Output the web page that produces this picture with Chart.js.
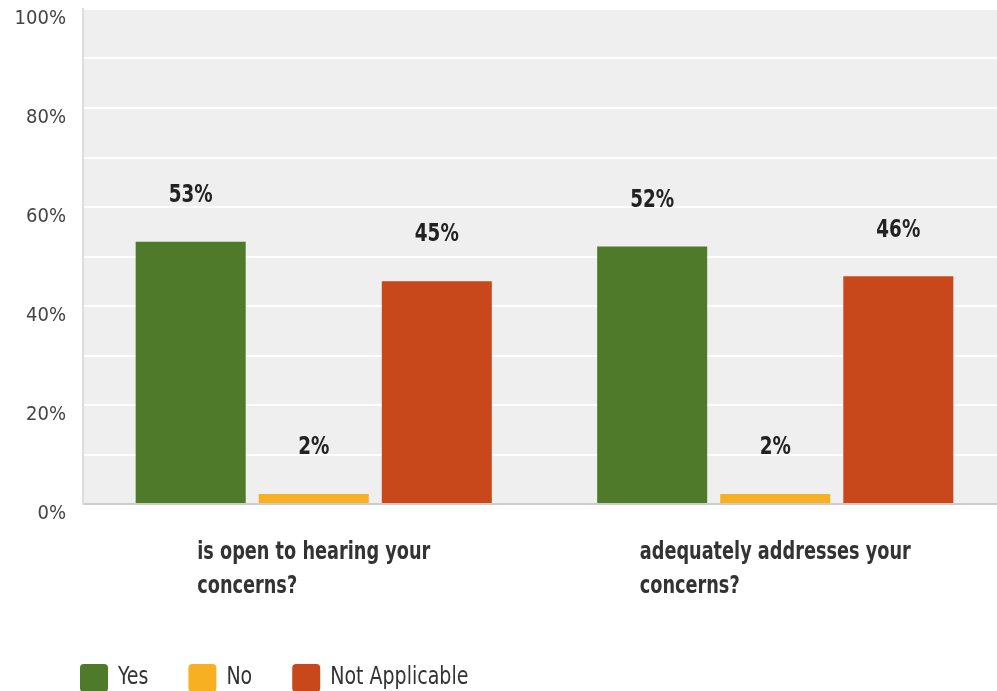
<!DOCTYPE html>
<html>
<head>
<meta charset="utf-8">
<script src="https://cdn.jsdelivr.net/npm/chart.js@4/dist/chart.umd.min.js"></script>
<style>
  html, body { margin: 0; padding: 0; background: #fff; overflow: hidden; }
</style>
</head>
<body>
<canvas id="surveyChart" width="1006" height="691"></canvas>
<script>
const categories = [
  ["is open to hearing your", "concerns?"],
  ["adequately addresses your", "concerns?"]
];
const seriesNames = ["Yes", "No", "Not Applicable"];
const yesValues = [53, 52];
const noValues = [2, 2];
const naValues = [45, 46];
const tickValues = [0, 20, 40, 60, 80, 100];

const FONT = '"DejaVu Sans Condensed", "Liberation Sans Narrow", sans-serif';

// draw text squeezed horizontally to mimic a narrow face
function narrowText(ctx, text, x, y, sx) {
  ctx.save();
  ctx.translate(x, y);
  ctx.scale(sx, 1);
  ctx.fillText(text, 0, 0);
  ctx.restore();
}

// grey plot background
const plotBackground = {
  id: "plotBackground",
  beforeDraw(chart) {
    const { ctx, chartArea } = chart;
    ctx.save();
    ctx.fillStyle = "#efefef";
    ctx.fillRect(chartArea.left, chartArea.top, chartArea.right - chartArea.left, chartArea.bottom - chartArea.top);
    ctx.restore();
  }
};

// percent labels above bars
const valueLabels = {
  id: "valueLabels",
  afterDatasetsDraw(chart) {
    const ctx = chart.ctx;
    ctx.save();
    ctx.font = "bold 24px " + FONT;
    ctx.fillStyle = "#222";
    ctx.textAlign = "center";
    ctx.textBaseline = "middle";
    chart.data.datasets.forEach((ds, di) => {
      chart.getDatasetMeta(di).data.forEach((bar, i) => {
        narrowText(ctx, ds.data[i] + "%", bar.x, bar.y - 46, 0.85);
      });
    });
    ctx.restore();
  }
};

// category labels: block centred on the tick, lines left aligned
const categoryLabels = {
  id: "categoryLabels",
  afterDraw(chart) {
    const ctx = chart.ctx;
    const xScale = chart.scales.x;
    const base = chart.chartArea.bottom;
    const sx = 0.82;
    ctx.save();
    ctx.font = "bold 24px " + FONT;
    ctx.fillStyle = "#333";
    ctx.textAlign = "left";
    ctx.textBaseline = "middle";
    categories.forEach((lines, i) => {
      const cx = xScale.getPixelForValue(i);
      const w = Math.max(...lines.map(l => ctx.measureText(l).width)) * sx;
      lines.forEach((line, j) => {
        narrowText(ctx, line, cx - w / 2, base + 49 + j * 34, sx);
      });
    });
    ctx.restore();
  }
};

// legend along the bottom, left aligned
const bottomLegend = {
  id: "bottomLegend",
  afterDraw(chart) {
    const ctx = chart.ctx;
    const sx = 0.88;
    let x = chart.chartArea.left - 3;
    const y = chart.height - 13;
    ctx.save();
    ctx.font = "24px " + FONT;
    ctx.textAlign = "left";
    ctx.textBaseline = "middle";
    chart.data.datasets.forEach((ds) => {
      ctx.fillStyle = ds.backgroundColor;
      ctx.beginPath();
      ctx.roundRect(x, y - 14, 28, 28, 4);
      ctx.fill();
      ctx.fillStyle = "#333";
      narrowText(ctx, ds.label, x + 38, y, sx);
      x += 38 + ctx.measureText(ds.label).width * sx + 40;
    });
    ctx.restore();
  }
};

new Chart(document.getElementById("surveyChart"), {
  type: "bar",
  data: {
    labels: categories,
    datasets: [
      { label: seriesNames[0], data: yesValues, backgroundColor: "#4e7a29" },
      { label: seriesNames[1], data: noValues, backgroundColor: "#f6b021" },
      { label: seriesNames[2], data: naValues, backgroundColor: "#c8471b" }
    ]
  },
  options: {
    responsive: false,
    animation: false,
    devicePixelRatio: 1,
    categoryPercentage: 0.80,
    barPercentage: 0.894,
    layout: { padding: { left: 0, top: 9, right: 0, bottom: 0 } },
    plugins: {
      tooltip: { enabled: false },
      legend: { display: false }
    },
    scales: {
      x: {
        grid: { display: false },
        border: { display: true, color: "#cccccc", width: 2 },
        ticks: { display: false },
        afterFit(scale) { scale.height = 187; }
      },
      y: {
        min: 0,
        max: 100,
        grid: {
          drawTicks: false,
          lineWidth: 2,
          color: (c) => (c.tick && c.tick.value === 0 ? "rgba(0,0,0,0)" : "#ffffff")
        },
        border: { display: true, color: "#dddddd", width: 2 },
        ticks: {
          stepSize: 10,
          padding: 17,
          labelOffset: 10,
          color: "#444",
          font: { family: FONT, size: 20 },
          callback: (v) => (tickValues.includes(v) ? v + "%" : "")
        },
        afterFit(scale) {
          scale.width = 83;
          scale.paddingTop = 0;
          scale.paddingBottom = 0;
        }
      }
    }
  },
  plugins: [plotBackground, valueLabels, categoryLabels, bottomLegend]
});
</script>
</body>
</html>
